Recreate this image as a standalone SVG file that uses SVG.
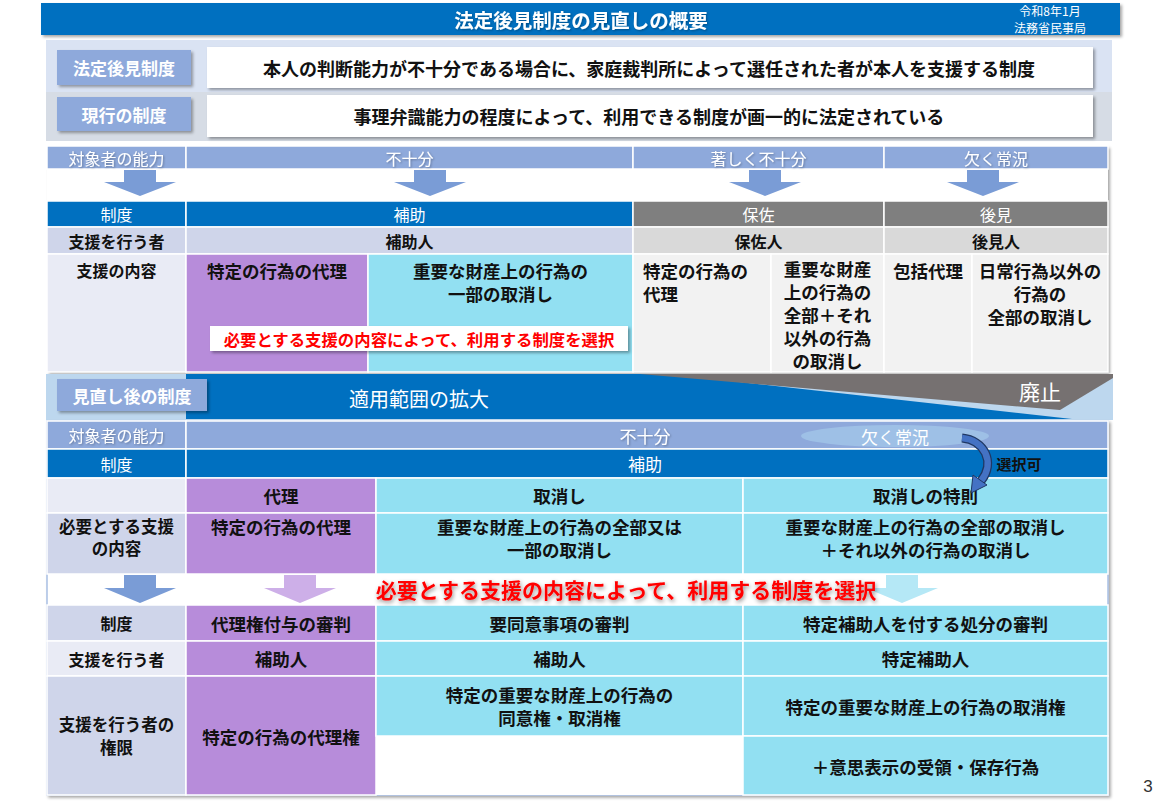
<svg xmlns="http://www.w3.org/2000/svg" width="1163" height="807" viewBox="0 0 1163 807">
<defs>
<filter id="sh" x="-5%" y="-20%" width="110%" height="150%"><feDropShadow dx="2" dy="2" stdDeviation="1.5" flood-color="#000" flood-opacity="0.35"/></filter>
<filter id="tsh" x="-5%" y="-20%" width="110%" height="150%"><feDropShadow dx="1" dy="1" stdDeviation="0.8" flood-color="#000" flood-opacity="0.3"/></filter>
<filter id="rsh" x="-5%" y="-50%" width="110%" height="200%"><feDropShadow dx="1" dy="2" stdDeviation="2" flood-color="#000" flood-opacity="0.45"/></filter>
</defs>
<style>
text{font-family:"Noto Sans CJK JP","Noto Sans",sans-serif;dominant-baseline:central;text-anchor:middle}
.w{fill:#fff}
.k{fill:#111;font-weight:bold}
.lb{font-size:16px}
.ct{font-size:17.5px}
.c{stroke:#fff;stroke-width:1.5}
.pu{fill:#B78CDA}
.cy{fill:#92E0F2}
.bl{fill:#0070C0}
.hd{fill:#8EA9DB}
.lv{fill:#CFD5EA}
.lv2{fill:#E9EBF5}
.gy{fill:#7F7F7F}
.gy2{fill:#D9D9D9}
.gy3{fill:#F2F2F2}
.arr{fill:#7A9CD6}
.red{fill:#FF0000;font-weight:bold}
</style>

<!-- Title -->
<g id="title">
<rect x="41" y="3" width="1079" height="32" fill="#0070C0" filter="url(#sh)"/>
<text class="w" x="581" y="19" font-size="19.5" font-weight="bold" filter="url(#tsh)">法定後見制度の見直しの概要</text>
<text class="w" x="1050" y="10.5" font-size="12">令和8年1月</text>
<text class="w" x="1050" y="27" font-size="12">法務省民事局</text>
</g>

<!-- Top panels -->
<g id="panel-definition">
<rect x="46" y="40" width="1066" height="52" fill="#DAE3F3"/>
<rect x="57" y="50" width="134" height="35" fill="#8EA9DB" filter="url(#sh)"/>
<text class="w" x="124" y="67.5" font-size="17" font-weight="bold">法定後見制度</text>
<rect x="207" y="47" width="886" height="41" fill="#fff" filter="url(#sh)"/>
<text class="k" x="649" y="67.5" font-size="18">本人の判断能力が不十分である場合に、家庭裁判所によって選任された者が本人を支援する制度</text>
</g>
<g id="panel-current">
<rect x="46" y="92" width="1066" height="49" fill="#D6DCE5"/>
<rect x="57" y="97" width="134" height="34" fill="#8EA9DB" filter="url(#sh)"/>
<text class="w" x="124" y="114" font-size="17" font-weight="bold">現行の制度</text>
<rect x="207" y="95" width="886" height="42" fill="#fff" filter="url(#sh)"/>
<text class="k" x="649" y="116" font-size="18">事理弁識能力の程度によって、利用できる制度が画一的に法定されている</text>
</g>

<!-- Top table -->
<g id="table-current">
<rect x="47" y="146" width="1061" height="226" fill="#fff" filter="url(#sh)"/>
<g id="t1-ability-label"><rect class="hd c" x="47" y="146" width="139" height="23"/><text class="w lb" x="116.5" y="157.5" filter="url(#tsh)">対象者の能力</text></g>
<g id="t1-ability-1"><rect class="hd c" x="186" y="146" width="447" height="23"/><text class="w lb" x="409.5" y="157.5" filter="url(#tsh)">不十分</text></g>
<g id="t1-ability-2"><rect class="hd c" x="633" y="146" width="251" height="23"/><text class="w lb" x="758.5" y="157.5" filter="url(#tsh)">著しく不十分</text></g>
<g id="t1-ability-3"><rect class="hd c" x="884" y="146" width="224" height="23"/><text class="w lb" x="996" y="157.5" filter="url(#tsh)">欠く常況</text></g>

<g id="t1-system-label"><rect class="bl c" x="47" y="201" width="139" height="26"/><text class="w lb" x="116.5" y="214">制度</text></g>
<g id="t1-hojo"><rect class="bl c" x="186" y="201" width="447" height="26"/><text class="w lb" x="409.5" y="214">補助</text></g>
<g id="t1-hosa"><rect class="gy c" x="633" y="201" width="251" height="26"/><text class="w lb" x="758.5" y="214">保佐</text></g>
<g id="t1-koken"><rect class="gy c" x="884" y="201" width="224" height="26"/><text class="w lb" x="996" y="214">後見</text></g>

<g id="t1-supporter-label"><rect class="lv c" x="47" y="227" width="139" height="27"/><text class="k lb" x="116.5" y="240.5">支援を行う者</text></g>
<g id="t1-hojonin"><rect class="lv c" x="186" y="227" width="447" height="27"/><text class="k lb" x="409.5" y="240.5">補助人</text></g>
<g id="t1-hosanin"><rect class="gy2 c" x="633" y="227" width="251" height="27"/><text class="k lb" x="758.5" y="240.5">保佐人</text></g>
<g id="t1-kokennin"><rect class="gy2 c" x="884" y="227" width="224" height="27"/><text class="k lb" x="996" y="240.5">後見人</text></g>

<g id="t1-content-label"><rect class="lv2 c" x="47" y="254" width="139" height="118"/><text class="k lb" x="116.5" y="270">支援の内容</text></g>
<g id="t1-hojo-dairi"><rect class="pu c" x="186" y="254" width="182" height="118"/><text class="k ct" x="277" y="270">特定の行為の代理</text></g>
<g id="t1-hojo-torikeshi"><rect class="cy c" x="368" y="254" width="265" height="118"/><text class="k ct" x="500.5" y="270">重要な財産上の行為の</text><text class="k ct" x="500.5" y="293">一部の取消し</text></g>
<g id="t1-hosa-dairi"><rect class="gy3 c" x="633" y="254" width="138" height="118"/><text class="k ct" x="643" y="270" style="text-anchor:start">特定の行為の</text><text class="k ct" x="643" y="293" style="text-anchor:start">代理</text></g>
<g id="t1-hosa-torikeshi"><rect class="gy3 c" x="771" y="254" width="113" height="118"/><text class="k ct" x="827.5" y="268">重要な財産</text><text class="k ct" x="827.5" y="291">上の行為の</text><text class="k ct" x="827.5" y="314">全部＋それ</text><text class="k ct" x="827.5" y="337">以外の行為</text><text class="k ct" x="827.5" y="360">の取消し</text></g>
<g id="t1-koken-dairi"><rect class="gy3 c" x="884" y="254" width="88" height="118"/><text class="k ct" x="928" y="270">包括代理</text></g>
<g id="t1-koken-torikeshi"><rect class="gy3 c" x="972" y="254" width="136" height="118"/><text class="k ct" x="1040" y="270">日常行為以外の</text><text class="k ct" x="1040" y="293">行為の</text><text class="k ct" x="1040" y="316">全部の取消し</text></g>

<g id="t1-callout"><rect x="210" y="326" width="418" height="25" fill="#fff" filter="url(#sh)"/><text class="red" x="419" y="338.5" font-size="16.4">必要とする支援の内容によって、利用する制度を選択</text></g>
</g>

<!-- Transition band -->
<g id="band">
<rect x="46" y="374" width="1067" height="46" fill="#BDD7EE"/>
<polygon points="186,374 667,374 1072,419 186,419" fill="#0070C0"/>
<polygon points="640,374 1113,374 1113,378 1060,410" fill="#767171"/>
<text class="w" x="1040" y="391" font-size="21">廃止</text>
<text class="w" x="419" y="398" font-size="20">適用範囲の拡大</text>
</g>
<g id="label-revised">
<rect x="57" y="379" width="150" height="32" fill="#8EA9DB" filter="url(#sh)"/>
<text class="w" x="132" y="395" font-size="17" font-weight="bold">見直し後の制度</text>
</g>

<!-- Bottom table -->
<g id="table-revised">
<rect x="47" y="421" width="1061" height="374" fill="#fff" stroke="#A9C0E4" stroke-width="1.5" filter="url(#sh)"/>
<g id="t2-ability-label"><rect class="hd c" x="47" y="421" width="139" height="28"/><text class="w lb" x="116.5" y="435" filter="url(#tsh)">対象者の能力</text></g>
<g id="t2-ability"><rect class="hd c" x="186" y="421" width="922" height="28"/><text class="w" x="645" y="435" font-size="17" filter="url(#tsh)">不十分</text></g>
<g id="t2-ellipse"><ellipse cx="895" cy="436" rx="94" ry="11" fill="#9EC0E6"/><text class="w" x="895" y="436" font-size="17">欠く常況</text></g>

<g id="t2-system-label"><rect class="bl c" x="47" y="449" width="139" height="29"/><text class="w lb" x="116.5" y="463.5">制度</text></g>
<g id="t2-hojo"><rect class="bl c" x="186" y="449" width="922" height="29"/><text class="w" x="645" y="463.5" font-size="17">補助</text></g>
<g id="t2-selectable"><text class="k" x="1019" y="463.5" font-size="15">選択可</text></g>

<g id="t2-type-label"><rect class="lv2 c" x="47" y="478" width="139" height="35"/></g>
<g id="t2-dairi"><rect class="pu c" x="186" y="478" width="190" height="35"/><text class="k ct" x="281" y="495.5">代理</text></g>
<g id="t2-torikeshi"><rect class="cy c" x="376" y="478" width="367" height="35"/><text class="k ct" x="559.5" y="495.5">取消し</text></g>
<g id="t2-tokusoku"><rect class="cy c" x="743" y="478" width="365" height="35"/><text class="k ct" x="925.5" y="495.5">取消しの特則</text></g>

<g id="t2-need-label"><rect class="lv c" x="47" y="513" width="139" height="61"/><text class="k" x="116.5" y="526" font-size="16.5">必要とする支援</text><text class="k" x="116.5" y="548" font-size="16.5">の内容</text></g>
<g id="t2-need-dairi"><rect class="pu c" x="186" y="513" width="190" height="61"/><text class="k ct" x="281" y="526">特定の行為の代理</text></g>
<g id="t2-need-torikeshi"><rect class="cy c" x="376" y="513" width="367" height="61"/><text class="k ct" x="559.5" y="526">重要な財産上の行為の全部又は</text><text class="k ct" x="559.5" y="549">一部の取消し</text></g>
<g id="t2-need-tokusoku"><rect class="cy c" x="743" y="513" width="365" height="61"/><text class="k ct" x="925.5" y="526">重要な財産上の行為の全部の取消し</text><text class="k ct" x="925.5" y="549">＋それ以外の行為の取消し</text></g>

<g id="t2-sys2-label"><rect class="lv c" x="47" y="605" width="139" height="36"/><text class="k lb" x="116.5" y="623">制度</text></g>
<g id="t2-sys2-dairi"><rect class="pu c" x="186" y="605" width="190" height="36"/><text class="k ct" x="281" y="623">代理権付与の審判</text></g>
<g id="t2-sys2-torikeshi"><rect class="cy c" x="376" y="605" width="367" height="36"/><text class="k ct" x="559.5" y="623">要同意事項の審判</text></g>
<g id="t2-sys2-tokusoku"><rect class="cy c" x="743" y="605" width="365" height="36"/><text class="k ct" x="925.5" y="623">特定補助人を付する処分の審判</text></g>

<g id="t2-sup-label"><rect class="lv2 c" x="47" y="641" width="139" height="35"/><text class="k lb" x="116.5" y="658.5">支援を行う者</text></g>
<g id="t2-sup-dairi"><rect class="pu c" x="186" y="641" width="190" height="35"/><text class="k ct" x="281" y="658.5">補助人</text></g>
<g id="t2-sup-torikeshi"><rect class="cy c" x="376" y="641" width="367" height="35"/><text class="k ct" x="559.5" y="658.5">補助人</text></g>
<g id="t2-sup-tokusoku"><rect class="cy c" x="743" y="641" width="365" height="35"/><text class="k ct" x="925.5" y="658.5">特定補助人</text></g>

<g id="t2-auth-label"><rect class="lv c" x="47" y="676" width="139" height="119"/><text class="k" x="116.5" y="724" font-size="16.5">支援を行う者の</text><text class="k" x="116.5" y="747" font-size="16.5">権限</text></g>
<g id="t2-auth-dairi"><rect class="pu c" x="186" y="676" width="190" height="119"/><text class="k ct" x="281" y="736">特定の行為の代理権</text></g>
<g id="t2-auth-torikeshi"><rect class="cy c" x="376" y="676" width="367" height="60"/><text class="k ct" x="559.5" y="694">特定の重要な財産上の行為の</text><text class="k ct" x="559.5" y="717">同意権・取消権</text></g>
<g id="t2-auth-blank"><rect x="376" y="736" width="367" height="59" fill="#fff"/></g>
<g id="t2-auth-tokusoku"><rect class="cy c" x="743" y="676" width="365" height="60"/><text class="k ct" x="925.5" y="706">特定の重要な財産上の行為の取消権</text></g>
<g id="t2-auth-tokusoku2"><rect class="cy c" x="743" y="736" width="365" height="59"/><text class="k ct" x="925.5" y="766">＋意思表示の受領・保存行為</text></g>
</g>

<!-- Connectors -->
<g id="connectors">
<path class="arr" d="M124,170 H156 V182 H176 L140,196 L104,182 H124 Z"/>
<path class="arr" d="M414,170 H446 V182 H466 L430,196 L394,182 H414 Z"/>
<path class="arr" d="M749,170 H781 V182 H801 L765,196 L729,182 H749 Z"/>
<path class="arr" d="M967,170 H999 V182 H1019 L983,196 L947,182 H967 Z"/>
<path class="arr" d="M124,575 H156 V588 H176 L140,603 L104,588 H124 Z"/>
<path d="M284,575 H316 V588 H336 L300,603 L264,588 H284 Z" fill="#CDAFE8"/>
<path d="M886,575 H918 V588 H938 L902,603 L866,588 H886 Z" fill="#B5E8F6"/>
<path d="M962,438 C984,440 996,462 981,481" fill="none" stroke="#203864" stroke-width="9"/>
<path d="M962,438 C984,440 996,462 981,481" fill="none" stroke="#4472C4" stroke-width="6.5"/>
<polygon points="971,493 973,475 987,485" fill="#4472C4" stroke="#203864" stroke-width="1"/>
</g>

<g id="bottom-callout"><text class="red" x="626" y="589" font-size="21" filter="url(#rsh)">必要とする支援の内容によって、利用する制度を選択</text></g>

<text x="1148" y="786" font-size="17" fill="#333" style="font-family:'Liberation Sans',sans-serif">3</text>
</svg>
